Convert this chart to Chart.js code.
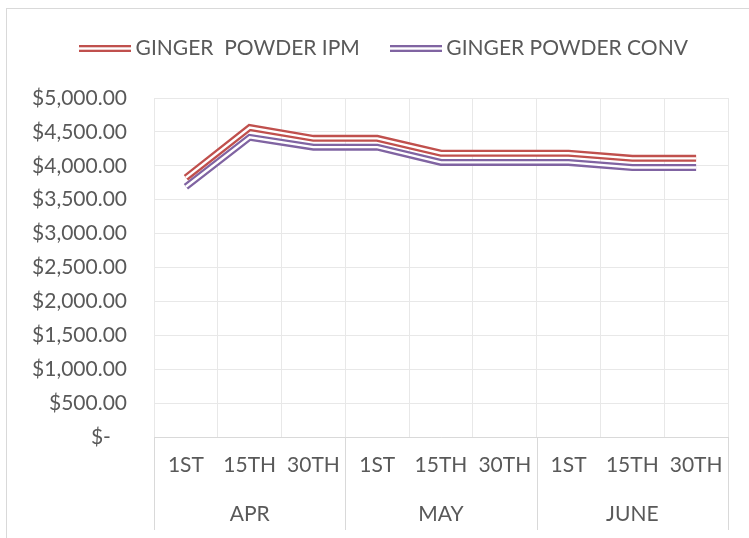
<!DOCTYPE html>
<html lang="en">
<head>
    <meta charset="utf-8" />
    <title>Ginger powder prices</title>
    <script src="https://cdn.jsdelivr.net/npm/chart.js@4.4.1/dist/chart.umd.min.js"></script>
    <style>
        body { margin: 0; background: #fff; }
        #wrap { position: relative; width: 749px; height: 538px; }
        #frame {
            position: absolute; left: 6px; top: 8px; width: 760px; height: 540px;
            border-left: 1.5px solid #d9d9d9; border-top: 1.5px solid #d9d9d9;
        }
        #chart { position: absolute; left: 0; top: 0; }
    </style>
</head>
<body>
    <div id="wrap">
        <div id="frame"></div>
        <canvas id="chart" width="749" height="538"></canvas>
    </div>

<script>
    // values
    const days = ['1ST', '15TH', '30TH', '1ST', '15TH', '30TH', '1ST', '15TH', '30TH'];
    const months = ['APR', 'MAY', 'JUNE'];
    const ipmPrices = [3825, 4565, 4405, 4405, 4185, 4185, 4185, 4110, 4110];
    const convPrices = [3690, 4420, 4275, 4275, 4050, 4050, 4050, 3975, 3975];
    const seriesNames = ['GINGER  POWDER IPM', 'GINGER POWDER CONV'];

    const RED = '#c0504d';
    const PURPLE = '#8064a2';
    const TEXT = '#595959';

    Chart.defaults.font.family = 'Lato, "Open Sans", sans-serif';
    Chart.defaults.font.size = 21;
    Chart.defaults.color = TEXT;

    // little double-line picture for the legend
    const _swatch = (color) => {
        const c = document.createElement('canvas');
        c.width = 52;
        c.height = 7;
        const g = c.getContext('2d');
        g.fillStyle = color;
        g.fillRect(0, 0, 52, 7);
        g.fillStyle = '#fff';
        g.fillRect(0, 2.3, 52, 2.4);
        return c;
    };

    const _fmt = v => v === 0 ? '$-   ' :
        '$' + v.toLocaleString('en-US', { minimumFractionDigits: 2, maximumFractionDigits: 2 });

    const _line = (label, data, color, width, order) => ({
        label: label,
        data: data,
        borderColor: color,
        backgroundColor: color,
        borderWidth: width,
        pointRadius: 0,
        pointHoverRadius: 0,
        tension: 0,
        order: order,
        xAxisID: 'x'
    });

    const _inner = _line('', ipmPrices, '#fff', 2.4, 0);
    const _inner2 = _line('', convPrices, '#fff', 2.4, 2);
    const _ipm = _line(seriesNames[0], ipmPrices, RED, 7, 1);
    _ipm.pointStyle = _swatch(RED);
    const _conv = _line(seriesNames[1], convPrices, PURPLE, 7, 3);
    _conv.pointStyle = _swatch(PURPLE);

    // separators between months under the axis, and room under the legend
    const monthLines = {
        id: 'monthLines',
        beforeInit(chart) {
            const origFit = chart.legend.fit;
            chart.legend.fit = function () {
                origFit.bind(chart.legend)();
                this.height += 29;
            };
        },
        afterLayout(chart) {
            // legend sits a bit right of the canvas centre
            chart.legend.left += 45;
        },
        afterDraw(chart) {
            const x = chart.scales.x;
            const x2 = chart.scales.x2;
            const ctx = chart.ctx;
            ctx.save();
            ctx.strokeStyle = '#d9d9d9';
            ctx.lineWidth = 1;
            for (let i = 0; i <= days.length; i += 3) {
                const px = Math.round(x.getPixelForValue(i - 0.5)) + 0.5;
                ctx.beginPath();
                ctx.moveTo(px, chart.chartArea.bottom);
                ctx.lineTo(px, x2.bottom);
                ctx.stroke();
            }
            ctx.restore();
        }
    };

    new Chart(document.getElementById('chart'), {
        type: 'line',
        data: {
            labels: days,
            datasets: [_inner, _ipm, _inner2, _conv]
        },
        options: {
            responsive: false,
            animation: false,
            layout: { padding: { top: 2, right: 21, bottom: 8, left: 0 } },
            plugins: {
                legend: {
                    position: 'top',
                    labels: {
                        usePointStyle: true,
                        pointStyleWidth: 40,
                        padding: 36,
                        filter: item => item.text !== '',
                        color: TEXT
                    }
                },
                tooltip: { enabled: false }
            },
            scales: {
                x: {
                    type: 'category',
                    offset: true,
                    grid: { offset: true, color: '#e8e8e8', drawTicks: false },
                    border: { color: '#d9d9d9' },
                    ticks: { padding: 16, maxRotation: 0, autoSkip: false },
                    afterFit: s => { s.height = 56; }
                },
                x2: {
                    type: 'category',
                    labels: months,
                    position: 'bottom',
                    offset: true,
                    grid: { display: false, drawTicks: false },
                    border: { display: false },
                    ticks: { padding: 9, maxRotation: 0 },
                    afterFit: s => { s.height = 37; }
                },
                y: {
                    min: 0,
                    max: 5000,
                    ticks: { stepSize: 500, padding: 27, callback: v => _fmt(v) },
                    grid: { color: '#e8e8e8', drawTicks: false },
                    border: { display: false },
                    afterFit: s => { s.width = 154; }
                }
            }
        },
        plugins: [monthLines]
    });
</script>
</body>
</html>
